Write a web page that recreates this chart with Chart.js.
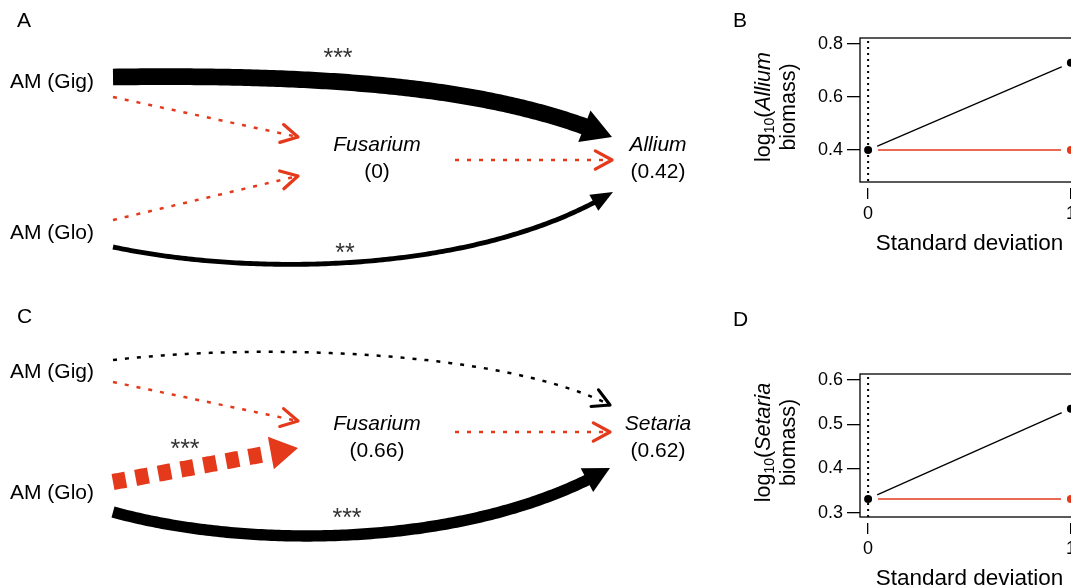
<!DOCTYPE html>
<html>
<head>
<meta charset="utf-8">
<script src="https://cdn.jsdelivr.net/npm/chart.js@4.4.1/dist/chart.umd.min.js"></script>
<style>
  html, body { margin: 0; padding: 0; background: #fff; }
  body { width: 1071px; height: 586px; overflow: hidden; position: relative; font-family: 'Liberation Sans', Arial, sans-serif; }
  canvas { position: absolute; }
  .lab { position: absolute; font-size: 21px; line-height: 21px; color: #000; }
</style>
</head>
<body>
<canvas id="pathA" width="730" height="290" style="left:0;top:0"></canvas>
<canvas id="pathC" width="730" height="296" style="left:0;top:290px"></canvas>
<canvas id="sdB" width="352" height="264" style="left:740px;top:0"></canvas>
<canvas id="sdD" width="352" height="309" style="left:740px;top:290px"></canvas>
<div class="lab" style="left:17px;top:9px">A</div>
<div class="lab" style="left:733px;top:9px">B</div>
<div class="lab" style="left:17px;top:305px">C</div>
<div class="lab" style="left:733px;top:308px">D</div>
<script>
const FONT = "'Liberation Sans', Arial, sans-serif";
const RED = '#e4391b';
Chart.defaults.font.family = FONT;
Chart.defaults.color = '#000';

// ---- data ----
// path order: Gig->plant, Glo->plant, Gig->Fusarium, Glo->Fusarium, Fusarium->plant
const plantNames = ['Allium', 'Setaria'];
const fusariumR2 = [0, 0.66];
const plantR2 = [0.42, 0.62];
const coefAllium = [0.62, 0.18, -0.05, -0.05, -0.05];
const sigAllium = ['***', '**', '', '', ''];
const coefSetaria = [0.05, 0.42, -0.05, -0.6, -0.05];
const sigSetaria = ['', '***', '', '***', ''];

const sdValues = [0, 1];
const alliumTicks = [0.4, 0.6, 0.8];
const setariaTicks = [0.3, 0.4, 0.5, 0.6];
const alliumBlack = [0.40, 0.728];
const alliumRed = [0.40, 0.40];
const setariaBlack = [0.331, 0.535];
const setariaRed = [0.331, 0.331];

// ---- diagram layout (page pixels) ----
const layoutA = {
  yMin: 0, yMax: 290,
  paths: [
    [[113, 77], [350, 74], [500, 90], [612, 137]],
    [[113, 247], [260, 278], [480, 272], [613, 192]],
    [[113, 97], [298, 137]],
    [[113, 220], [298, 176]],
    [[455, 160], [612, 160]]
  ],
  sigPos: [[338, 52], [345, 247], null, null, null],
  gig: [52, 82], glo: [52, 233], fus: [377, 145], plant: [658, 145]
};
const layoutC = {
  yMin: 290, yMax: 586,
  paths: [
    [[113, 360], [260, 343], [500, 350], [610, 405]],
    [[113, 512], [250, 550], [470, 548], [610, 468]],
    [[113, 382], [298, 421]],
    [[113, 482], [298, 448]],
    [[455, 432], [610, 432]]
  ],
  sigPos: [null, [347, 512], null, [185, 443], null],
  gig: [52, 372], glo: [52, 493], fus: [377, 424], plant: [658, 424]
};

function bez(P, t) {
  if (P.length === 2) return [P[0][0] + (P[1][0] - P[0][0]) * t, P[0][1] + (P[1][1] - P[0][1]) * t];
  const u = 1 - t;
  const f = i => u * u * u * P[0][i] + 3 * u * u * t * P[1][i] + 3 * u * t * t * P[2][i] + t * t * t * P[3][i];
  return [f(0), f(1)];
}

function drawPath(ctx, P, coef, sig) {
  const w = Math.max(2.5, 27 * Math.abs(coef));
  const color = coef < 0 ? RED : '#000';
  const pts = [];
  for (let i = 0; i <= 150; i++) pts.push(bez(P, i / 150));
  const tip = pts[pts.length - 1];
  const filled = sig !== '';
  const headLen = filled ? 16 + 0.7 * w : 20;
  let k = pts.length - 1;
  while (k > 0 && Math.hypot(tip[0] - pts[k][0], tip[1] - pts[k][1]) < headLen) k--;
  const base = pts[k];
  const ang = Math.atan2(tip[1] - base[1], tip[0] - base[0]);

  ctx.save();
  ctx.strokeStyle = color;
  ctx.fillStyle = color;
  ctx.lineWidth = w;
  ctx.lineCap = 'butt';
  if (!filled) ctx.setLineDash([4, 8]);
  else if (coef < 0) ctx.setLineDash([13, 10]);
  const stop = filled ? Math.min(k + 3, pts.length - 1) : pts.length - 3;
  ctx.beginPath();
  ctx.moveTo(pts[0][0], pts[0][1]);
  for (let i = 1; i <= stop; i++) ctx.lineTo(pts[i][0], pts[i][1]);
  ctx.stroke();
  ctx.setLineDash([]);

  if (filled) {
    const hw = 6 + 0.65 * w;
    const nx = -Math.sin(ang), ny = Math.cos(ang);
    ctx.beginPath();
    ctx.moveTo(tip[0], tip[1]);
    ctx.lineTo(base[0] + nx * hw, base[1] + ny * hw);
    ctx.lineTo(base[0] - nx * hw, base[1] - ny * hw);
    ctx.closePath();
    ctx.fill();
  } else {
    ctx.lineWidth = 3.2;
    ctx.lineCap = 'round';
    ctx.beginPath();
    [0.5, -0.5].forEach(d => {
      ctx.moveTo(tip[0], tip[1]);
      ctx.lineTo(tip[0] - 19 * Math.cos(ang + d), tip[1] - 19 * Math.sin(ang + d));
    });
    ctx.stroke();
  }
  ctx.restore();
}

function pathDiagram(id, layout, coefs, sigs, plant, r2Fus, r2Plant) {
  new Chart(document.getElementById(id), {
    type: 'scatter',
    data: { datasets: [] },
    options: {
      responsive: false,
      animation: false,
      layout: { padding: 0 },
      plugins: { legend: { display: false }, tooltip: { enabled: false } },
      scales: {
        x: { min: 0, max: 730, display: false },
        y: { min: layout.yMin, max: layout.yMax, reverse: true, display: false }
      }
    },
    plugins: [{
      id: 'paths',
      afterDraw(chart) {
        const ctx = chart.ctx;
        const sx = chart.scales.x, sy = chart.scales.y;
        const pt = p => [sx.getPixelForValue(p[0]), sy.getPixelForValue(p[1])];
        layout.paths.forEach((P, i) => drawPath(ctx, P.map(pt), coefs[i], sigs[i]));

        ctx.save();
        ctx.fillStyle = '#333';
        ctx.textAlign = 'center';
        ctx.textBaseline = 'alphabetic';
        ctx.font = '25px ' + FONT;
        layout.sigPos.forEach((p, i) => {
          if (!p || !sigs[i]) return;
          const q = pt(p);
          ctx.fillText(sigs[i], q[0], q[1] + 14);
        });

        ctx.fillStyle = '#000';
        ctx.textBaseline = 'middle';
        const txt = (s, p, italic, dy) => {
          const q = pt(p);
          ctx.font = (italic ? 'italic ' : '') + '21px ' + FONT;
          ctx.fillText(s, q[0], q[1] + (dy || 0));
        };
        txt('AM (Gig)', layout.gig);
        txt('AM (Glo)', layout.glo);
        txt('Fusarium', layout.fus, true);
        txt('(' + r2Fus + ')', layout.fus, false, 27);
        txt(plant, layout.plant, true);
        txt('(' + r2Plant.toFixed(2) + ')', layout.plant, false, 27);
        ctx.restore();
      }
    }]
  });
}

pathDiagram('pathA', layoutA, coefAllium, sigAllium, plantNames[0], fusariumR2[0], plantR2[0]);
pathDiagram('pathC', layoutC, coefSetaria, sigSetaria, plantNames[1], fusariumR2[1], plantR2[1]);

// ---- standard deviation panels ----
function sdChart(id, padTop, yMin, yMax, yTicks, black, red, species) {
  new Chart(document.getElementById(id), {
    type: 'line',
    data: {
      datasets: [
        {
          data: sdValues.map((x, i) => ({ x, y: black[i] })),
          borderColor: '#000', borderWidth: 1.3,
          pointRadius: 7, pointBorderWidth: 6,
          pointBackgroundColor: '#000', pointBorderColor: '#fff'
        },
        {
          data: sdValues.map((x, i) => ({ x, y: red[i] })),
          borderColor: RED, borderWidth: 1.5,
          pointRadius: 7, pointBorderWidth: 6,
          pointBackgroundColor: RED, pointBorderColor: '#fff'
        }
      ]
    },
    options: {
      responsive: false,
      animation: false,
      layout: { padding: { left: 60, top: padTop, right: 0, bottom: 0 } },
      plugins: { legend: { display: false }, tooltip: { enabled: false } },
      scales: {
        x: {
          type: 'linear', min: -0.04, max: 1.04,
          afterBuildTicks: s => { s.ticks = sdValues.map(v => ({ value: v })); },
          afterFit: s => { s.height = 82; },
          border: { display: false },
          grid: { drawOnChartArea: false, drawTicks: true, tickLength: 17, tickBorderDash: [0, 6, 11, 100], color: '#000', lineWidth: 1.3 },
          ticks: { font: { size: 18 }, padding: 4, maxRotation: 0, callback: v => String(v) },
          title: { display: true, text: 'Standard deviation', font: { size: 22.5 }, padding: { top: 0, bottom: 7 } }
        },
        y: {
          min: yMin, max: yMax,
          afterBuildTicks: s => { s.ticks = yTicks.map(v => ({ value: v })); },
          afterFit: s => { s.width = 60; },
          border: { display: false },
          grid: { drawOnChartArea: false, drawTicks: true, tickLength: 13, color: '#000', lineWidth: 1.3 },
          ticks: { font: { size: 18 }, padding: 4, callback: v => v.toFixed(1) }
        }
      }
    },
    plugins: [{
      id: 'frame',
      afterDraw(chart) {
        const ctx = chart.ctx, a = chart.chartArea;
        const x0 = chart.scales.x.getPixelForValue(0);
        ctx.save();
        ctx.strokeStyle = '#000';
        ctx.lineWidth = 2;
        ctx.setLineDash([2, 4]);
        ctx.beginPath();
        ctx.moveTo(x0, a.top + 3);
        ctx.lineTo(x0, a.bottom);
        ctx.stroke();
        ctx.setLineDash([]);
        ctx.lineWidth = 1.3;
        ctx.strokeRect(a.left, a.top, a.right - a.left, a.bottom - a.top);

        // y axis title: log10(<species> / biomass)
        const cy = (a.top + a.bottom) / 2 - 3;
        ctx.translate(23, cy);
        ctx.rotate(-Math.PI / 2);
        ctx.fillStyle = '#000';
        ctx.textBaseline = 'alphabetic';
        ctx.textAlign = 'left';
        const parts = [
          ['log', '21.5px ' + FONT, 7],
          ['10', '14px ' + FONT, 11],
          ['(', '21.5px ' + FONT, 7],
          [species, 'italic 21.5px ' + FONT, 7]
        ];
        let total = 0;
        parts.forEach(p => { ctx.font = p[1]; total += ctx.measureText(p[0]).width; });
        let x = -total / 2;
        parts.forEach(p => {
          ctx.font = p[1];
          ctx.fillText(p[0], x, p[2]);
          x += ctx.measureText(p[0]).width;
        });
        ctx.font = '21.5px ' + FONT;
        ctx.textAlign = 'center';
        ctx.fillText('biomass)', 0, 32);
        ctx.restore();
      }
    }]
  });
}

sdChart('sdB', 38, 0.280, 0.8215, alliumTicks, alliumBlack, alliumRed, plantNames[0]);
sdChart('sdD', 84, 0.290, 0.6135, setariaTicks, setariaBlack, setariaRed, plantNames[1]);
</script>
</body>
</html>
